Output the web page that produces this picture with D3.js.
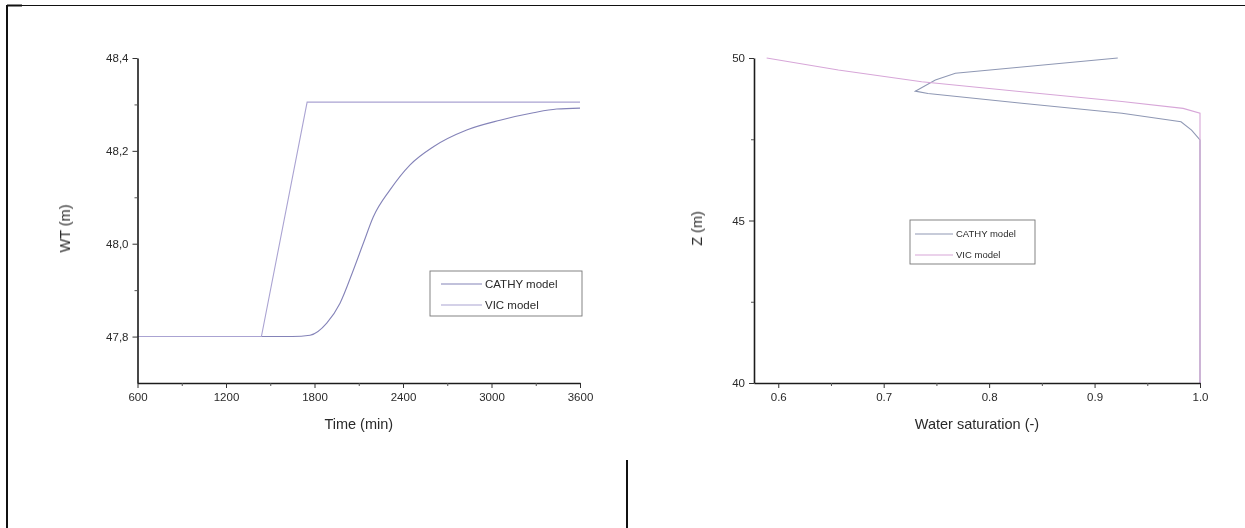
<!DOCTYPE html>
<html>
<head>
<meta charset="utf-8">
<script src="https://cdn.jsdelivr.net/npm/d3@7"></script>
<style>
  html, body { margin: 0; padding: 0; background: #fff; }
  svg { display: block; }
  text { font-family: "Liberation Sans", Arial, sans-serif; fill: #2a2a2a; }
</style>
</head>
<body>
<svg id="fig" width="1245" height="528"></svg>
<script>
// Panel (a): water table elevation over time
const timeTicks = [600, 1200, 1800, 2400, 3000, 3600];
const timeMinor = [900, 1500, 2100, 2700, 3300];
const wtTicks = [47.8, 48.0, 48.2, 48.4];
const wtMinor = [47.9, 48.1, 48.3];

const cathyTime = [600, 1650, 1770, 1883, 1973, 2063, 2131, 2199, 2312, 2448, 2606, 2832, 3058, 3284, 3442, 3600];
const cathyWT   = [47.8, 47.8, 47.803, 47.829, 47.872, 47.943, 48.001, 48.058, 48.116, 48.17, 48.209, 48.245, 48.266, 48.282, 48.29, 48.292];
const vicTime = [600, 1440, 1750, 3600];
const vicWT   = [47.8, 47.8, 48.305, 48.305];

// Panel (b): saturation profile with depth
const satTicks = [0.6, 0.7, 0.8, 0.9, 1.0];
const satMinor = [0.65, 0.75, 0.85, 0.95];
const zTicks = [40, 45, 50];
const zMinor = [42.5, 47.5];

const cathySat = [0.922, 0.768, 0.749, 0.730, 0.742, 0.831, 0.926, 0.982, 0.992, 1.0, 1.0];
const cathyZ   = [50.0, 49.53, 49.32, 48.98, 48.91, 48.61, 48.30, 48.04, 47.78, 47.48, 40];
const vicSat = [0.589, 0.657, 0.736, 0.831, 0.926, 0.984, 1.0, 1.0];
const vicZ   = [50.0, 49.63, 49.27, 48.96, 48.66, 48.45, 48.30, 40];

const seriesNames = ["CATHY model", "VIC model"];

const svg = d3.select("#fig");

// soft rendering for the plotted figure
const defs = svg.append("defs");
defs.append("filter").attr("id", "soft")
  .attr("x", "-5%").attr("y", "-5%").attr("width", "110%").attr("height", "110%")
  .append("feGaussianBlur").attr("stdDeviation", 0.45);

// page frame lines
svg.append("line").attr("x1", 7).attr("x2", 1245).attr("y1", 5.5).attr("y2", 5.5)
  .attr("stroke", "#111").attr("stroke-width", 1);
svg.append("line").attr("x1", 7).attr("x2", 22).attr("y1", 5.5).attr("y2", 5.5)
  .attr("stroke", "#111").attr("stroke-width", 2);
svg.append("line").attr("x1", 7).attr("x2", 7).attr("y1", 5).attr("y2", 528)
  .attr("stroke", "#111").attr("stroke-width", 2);
svg.append("line").attr("x1", 627).attr("x2", 627).attr("y1", 460).attr("y2", 528)
  .attr("stroke", "#111").attr("stroke-width", 2);

function panel(cfg) {
  const g = svg.append("g").attr("filter", "url(#soft)");
  const x = d3.scaleLinear().domain(cfg.xDomain).range([cfg.left, cfg.right]);
  const y = d3.scaleLinear().domain(cfg.yDomain).range([cfg.bottom, cfg.top]);

  // data lines
  cfg.series.forEach(s => {
    const pts = s.x.map((v, i) => [v, s.y[i]]);
    const line = d3.line().x(d => x(d[0])).y(d => y(d[1]));
    if (s.curve) line.curve(s.curve);
    g.append("path").datum(pts).attr("d", line)
      .attr("fill", "none").attr("stroke", s.color).attr("stroke-width", 1.1);
  });

  // x axis
  const xa = g.append("g").attr("transform", `translate(0,${cfg.bottom})`)
    .call(d3.axisBottom(x).tickValues(cfg.xTicks).tickFormat(cfg.xFormat)
      .tickSize(5).tickSizeOuter(0).tickPadding(5));
  xa.select(".domain").attr("stroke", "#1a1a1a").attr("stroke-width", 1.6);
  xa.selectAll(".tick line").attr("stroke", "#333");
  xa.selectAll("text").attr("font-size", 11.5).attr("fill", "#333")
    .style("font-family", "'Liberation Sans', Arial, sans-serif");
  g.append("g").attr("transform", `translate(0,${cfg.bottom})`)
    .call(d3.axisBottom(x).tickValues(cfg.xMinor).tickFormat("").tickSize(3).tickSizeOuter(0))
    .call(a => a.select(".domain").remove())
    .selectAll(".tick line").attr("stroke", "#555");

  // y axis
  const ya = g.append("g").attr("transform", `translate(${cfg.left},0)`)
    .call(d3.axisLeft(y).tickValues(cfg.yTicks).tickFormat(cfg.yFormat)
      .tickSize(5).tickSizeOuter(0).tickPadding(4));
  ya.select(".domain").attr("stroke", "#1a1a1a").attr("stroke-width", 1.6);
  ya.selectAll(".tick line").attr("stroke", "#333");
  ya.selectAll("text").attr("font-size", 11.5).attr("fill", "#333")
    .style("font-family", "'Liberation Sans', Arial, sans-serif");
  g.append("g").attr("transform", `translate(${cfg.left},0)`)
    .call(d3.axisLeft(y).tickValues(cfg.yMinor).tickFormat("").tickSize(3).tickSizeOuter(0))
    .call(a => a.select(".domain").remove())
    .selectAll(".tick line").attr("stroke", "#555");

  // axis titles
  g.append("text").attr("x", (cfg.left + cfg.right) / 2).attr("y", cfg.bottom + 46)
    .attr("text-anchor", "middle").attr("font-size", 14.5).attr("fill", "#222")
    .text(cfg.xTitle);
  g.append("text")
    .attr("transform", `translate(${cfg.yTitleX},${(cfg.top + cfg.bottom) / 2 + 8}) rotate(-90)`)
    .attr("text-anchor", "middle").attr("font-size", 14.5).attr("fill", "#222")
    .text(cfg.yTitle);

  // legend
  const L = cfg.legend;
  g.append("rect").attr("x", L.x).attr("y", L.y).attr("width", L.w).attr("height", L.h)
    .attr("fill", "#fff").attr("stroke", "#777").attr("stroke-width", 0.9);
  cfg.series.forEach((s, i) => {
    const ry = L.y + L.rowTop + i * L.rowGap;
    g.append("line").attr("x1", L.x + L.pad).attr("x2", L.x + L.pad + L.lineLen)
      .attr("y1", ry).attr("y2", ry).attr("stroke", s.color).attr("stroke-width", 1.1);
    g.append("text").attr("x", L.x + L.pad + L.lineLen + 3).attr("y", ry)
      .attr("dy", "0.35em").attr("font-size", L.font).attr("fill", "#333")
      .text(s.name);
  });
}

const comma1 = v => d3.format(".1f")(v).replace(".", ",");

panel({
  left: 137.5, right: 580, top: 58, bottom: 383,
  xDomain: [600, 3600], yDomain: [47.7, 48.4],
  xTicks: timeTicks, xMinor: timeMinor, yTicks: wtTicks, yMinor: wtMinor,
  xFormat: d3.format("d"), yFormat: comma1,
  xTitle: "Time (min)", yTitle: "WT (m)", yTitleX: 70,
  series: [
    { name: seriesNames[0], x: cathyTime, y: cathyWT, color: "#8483b8", curve: d3.curveMonotoneX },
    { name: seriesNames[1], x: vicTime, y: vicWT, color: "#aaa3d2" }
  ],
  legend: { x: 430, y: 271, w: 152, h: 45, pad: 11, lineLen: 41, rowTop: 13, rowGap: 21, font: 11.5 }
});

panel({
  left: 754, right: 1200, top: 58, bottom: 383,
  xDomain: [0.577, 1.0], yDomain: [40, 50],
  xTicks: satTicks, xMinor: satMinor, yTicks: zTicks, yMinor: zMinor,
  xFormat: d3.format(".1f"), yFormat: d3.format("d"),
  xTitle: "Water saturation (-)", yTitle: "Z (m)", yTitleX: 702,
  series: [
    { name: seriesNames[0], x: cathySat, y: cathyZ, color: "#8f98b4" },
    { name: seriesNames[1], x: vicSat, y: vicZ, color: "#d7a6d8" }
  ],
  legend: { x: 910, y: 220, w: 125, h: 44, pad: 5, lineLen: 38, rowTop: 14, rowGap: 21, font: 9.5 }
});
</script>
</body>
</html>
